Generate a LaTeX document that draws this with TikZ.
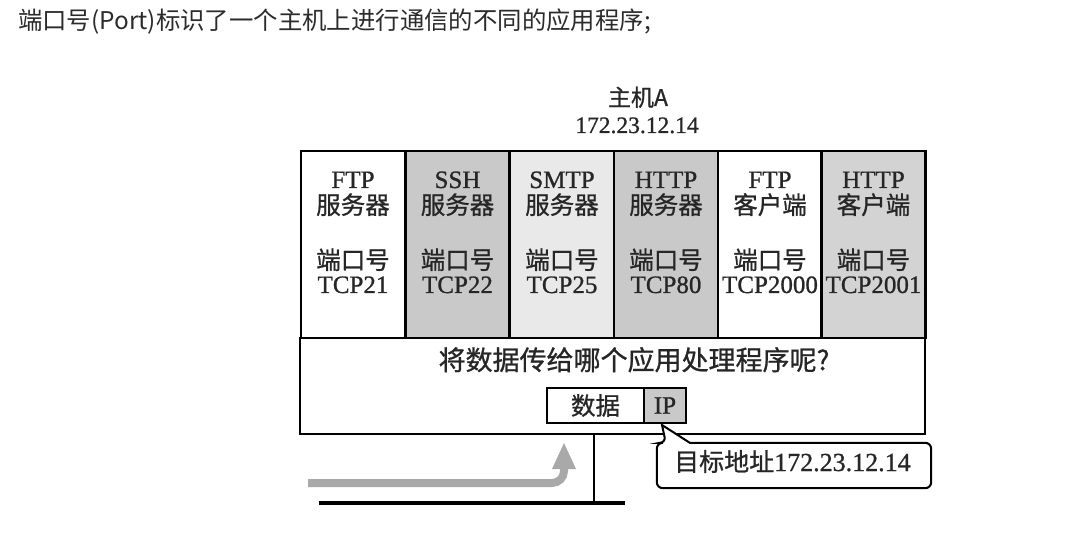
\documentclass[tikz,border=0pt]{standalone}
\usepackage{fontspec}
\setmainfont{Liberation Serif}[FakeBold=0.9]
\newfontfamily\cjk{Noto Sans CJK SC}[FakeBold=0.9]
\newfontfamily\cjkplain{Noto Sans CJK SC}
\usetikzlibrary{calc}

\definecolor{inkgray}{HTML}{2B2B2B}
\definecolor{shadeA}{HTML}{C9C9C9}
\definecolor{shadeB}{HTML}{E9E9E9}
\definecolor{shadeC}{HTML}{D3D3D3}
\definecolor{flowgray}{HTML}{A9A9A9}

\begin{document}
\begin{tikzpicture}[x=1pt,y=-1pt,
  col/.style={draw=black, line width=2.4pt, minimum width=104pt, minimum height=187pt, inner sep=0pt},
  en/.style={inner sep=0pt, anchor=base, text=black!85, font=\fontsize{25}{30}\selectfont},
  zh/.style={inner sep=0pt, anchor=base, text=black!85, font=\cjk\fontsize{24.5}{30}\selectfont},
  pkt/.style={draw=black, line width=2pt, minimum height=35pt, inner sep=0pt}
]
\useasboundingbox (0,0) rectangle (1072,540);

% heading line
\node[inner sep=0pt, anchor=base west, text=inkgray, font=\cjkplain\fontsize{24.4}{28}\selectfont]
  (head) at (18,30) {端口号(Port)标识了一个主机上进行通信的不同的应用程序;};

% host name and address
\node[zh, font=\cjk\fontsize{23}{28}\selectfont] (hostname) at (638,106) {主机A};
\node[en, font=\fontsize{23.5}{28}\selectfont] (hostaddr) at (637,133) {172.23.12.14};

% lower part of the host
\node[draw=black, line width=2.4pt, fill=white, minimum width=625pt, minimum height=96pt, inner sep=0pt]
  (lower) at (612.5,386) {};

% application columns
\node[col, fill=white]  (c1) at (353,244.5) {};
\node[col, fill=shadeA] (c2) at (457.5,244.5) {};
\node[col, fill=shadeB] (c3) at (562,244.5) {};
\node[col, fill=shadeA] (c4) at (666,244.5) {};
\node[col, fill=white]  (c5) at (770,244.5) {};
\node[col, fill=shadeC] (c6) at (873.5,244.5) {};

\foreach \n/\x/\proto/\role/\port in {
  1/353/FTP/服务器/TCP21, 2/457.5/SSH/服务器/TCP22, 3/562/SMTP/服务器/TCP25,
  4/666/HTTP/服务器/TCP80, 5/770/FTP/客户端/TCP2000, 6/873.5/HTTP/客户端/TCP2001} {
  \node[en] (p\n) at (\x,188) {\proto};
  \node[zh] (r\n) at (\x,214) {\role};
  \node[zh] (k\n) at (\x,269) {端口号};
  \node[en] (t\n) at (\x,293) {\port};
}

% question and packet
\node[zh, font=\cjk\fontsize{27}{32}\selectfont] (ask) at (634,370) {将数据传给哪个应用处理程序呢?};
\node[pkt, fill=white, minimum width=97pt, font=\cjk\fontsize{24.5}{30}\selectfont, text=black!85]
  (data) at (595.5,405.5) {数据};
\node[pkt, fill=shadeA, minimum width=42pt, font=\fontsize{25}{30}\selectfont, text=black!85]
  (ip) at (665,405.5) {IP};

% network attachment
\coordinate (busL) at (319,503);
\coordinate (busR) at (625,503);
\coordinate (tap) at (594,503);
\draw[line width=4pt] (busL) -- (busR);
\draw[line width=2.6pt] (lower.south -| tap) -- (tap);

% incoming flow
\coordinate (flowS) at (308,483);
\coordinate (flowK) at (564,483);
\coordinate (flowT) at (564,443);
\draw[flowgray, line width=8pt, rounded corners=12pt] (flowS) -- (flowK) -- ($(flowT)+(0,26)$);
\fill[flowgray] ($(flowT)+(-12,26)$) -- ($(flowT)+(12,26)$) -- (flowT) -- cycle;

% destination callout
\node[inner sep=0pt, minimum width=274pt, minimum height=45pt] (dest) at (794,465.5) {};
\coordinate (tip) at ($(ip.south)+(-3,1)$);
\draw[line width=2pt, fill=white, rounded corners=6pt]
  ($(dest.north west)+(33,0)$) -- (dest.north east) -- (dest.south east) -- (dest.south west)
  -- (dest.north west) -- ($(dest.north west)+(9,0)$) [sharp corners] -- (tip) -- cycle;
\node[inner sep=0pt, anchor=base west, text=black!85] (destlbl) at (674,471)
  {{\cjk\fontsize{25}{30}\selectfont 目标地址}{\fontsize{26}{30}\selectfont 172.23.12.14}};
\end{tikzpicture}
\end{document}
